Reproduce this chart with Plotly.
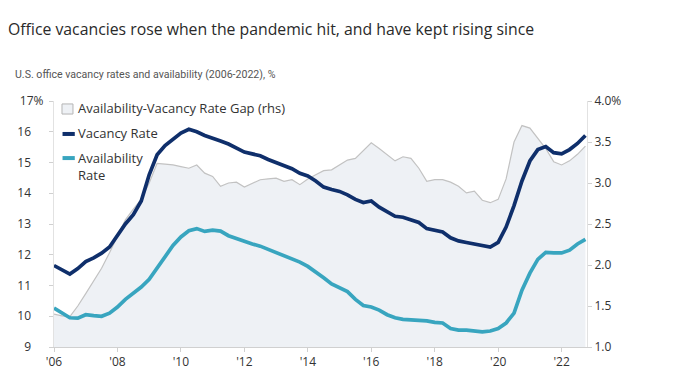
import plotly.graph_objects as go

# Quarterly, 2006 Q1 .. 2022 Q4
years = [2006 + i * 0.25 for i in range(68)]

vacancy = [11.65, 11.5, 11.37, 11.55, 11.78, 11.9, 12.05, 12.25,
           12.65, 13.0, 13.3, 13.75, 14.6, 15.25, 15.55, 15.75,
           15.96, 16.08, 16.0, 15.88, 15.8, 15.7, 15.6, 15.47,
           15.34, 15.28, 15.22, 15.1, 15.0, 14.88, 14.8, 14.65,
           14.56, 14.4, 14.2, 14.12, 14.06, 13.95, 13.8, 13.7,
           13.75, 13.55, 13.4, 13.25, 13.22, 13.12, 13.05, 12.85,
           12.78, 12.74, 12.55, 12.45, 12.4, 12.36, 12.3, 12.25,
           12.4, 12.9, 13.6, 14.4, 15.05, 15.42, 15.52, 15.32,
           15.28, 15.42, 15.62, 15.88]

availability = [10.27, 10.1, 9.95, 9.94, 10.05, 10.02, 10.0, 10.1,
                10.3, 10.55, 10.75, 10.95, 11.2, 11.55, 11.95, 12.3,
                12.58, 12.78, 12.85, 12.76, 12.8, 12.77, 12.62, 12.52,
                12.42, 12.35, 12.28, 12.18, 12.08, 11.98, 11.88, 11.76,
                11.62, 11.45, 11.25, 11.05, 10.93, 10.8, 10.55, 10.35,
                10.3, 10.2, 10.05, 9.95, 9.9, 9.88, 9.88, 9.85,
                9.8, 9.78, 9.6, 9.55, 9.55, 9.52, 9.49, 9.52,
                9.6, 9.78, 10.1, 10.85, 11.4, 11.85, 12.08, 12.06,
                12.06, 12.15, 12.35, 12.5]

gap = [1.4, 1.38, 1.37, 1.5, 1.65, 1.8, 1.96, 2.15,
       2.35, 2.55, 2.68, 2.8, 3.0, 3.24, 3.23, 3.22,
       3.2, 3.18, 3.22, 3.12, 3.08, 2.96, 3.0, 3.01,
       2.95, 3.0, 3.04, 3.05, 3.06, 3.02, 3.04, 2.98,
       3.05, 3.1, 3.15, 3.16, 3.22, 3.28, 3.3, 3.4,
       3.49, 3.42, 3.35, 3.27, 3.32, 3.3, 3.18, 3.02,
       3.04, 3.04, 3.01, 2.96, 2.88, 2.9, 2.79, 2.76,
       2.8, 3.05, 3.5, 3.7, 3.67, 3.55, 3.42, 3.26,
       3.22, 3.27, 3.35, 3.45]

series_names = ["Availability-Vacancy Rate Gap (rhs)", "Vacancy Rate", "Availability<br>Rate"]
x_ticks = list(range(2006, 2023, 2))
x_labels = ["'06", "'08", "'10", "'12", "'14", "'16", "'18", "'20", "'22"]
left_ticks = list(range(9, 18))
NB = "\u00a0\u00a0\u00a0\u00a0\u00a0"  # pads the numbers so the "%" of the top label hangs
left_labels = ["9" + NB, "10" + NB, "11" + NB, "12" + NB, "13" + NB,
               "14" + NB, "15" + NB, "16" + NB, "17%\u00a0"]
right_ticks = [1.0, 1.5, 2.0, 2.5, 3.0, 3.5, 4.0]
right_labels = ["1.0", "1.5", "2.0", "2.5", "3.0", "3.5", "4.0%"]

FONT = "Open Sans"
GAP_LINE = "#c2c2c2"
GAP_FILL = "#eef1f5"
NAVY = "#0f2f6b"
TEAL = "#38a5bf"

fig = go.Figure()
fig.add_trace(go.Scatter(
    x=years, y=gap, name=series_names[0], showlegend=False,
    mode="lines", line=dict(color=GAP_LINE, width=1.2),
    fill="tozeroy", fillcolor=GAP_FILL, yaxis="y"))
fig.add_trace(go.Scatter(
    x=years, y=vacancy, name=series_names[1], showlegend=False, mode="lines",
    line=dict(color=NAVY, width=3.7), yaxis="y2"))
fig.add_trace(go.Scatter(
    x=years, y=availability, name=series_names[2], showlegend=False, mode="lines",
    line=dict(color=TEAL, width=3.7), yaxis="y2"))

axis_font = dict(family=FONT, size=12, color="#333333")
legend_font = dict(family=FONT, size=13, color="#333333")

# legend (drawn as paper-positioned symbols + real text)
shapes = [
    dict(type="rect", xref="paper", yref="paper", x0=0.015, x1=0.0356, y0=0.947, y1=0.988,
         fillcolor=GAP_FILL, line=dict(color="#b5b5b5", width=1)),
    dict(type="line", xref="paper", yref="paper", x0=0.016, x1=0.039, y0=0.866, y1=0.866,
         line=dict(color=NAVY, width=4)),
    dict(type="line", xref="paper", yref="paper", x0=0.016, x1=0.039, y0=0.768, y1=0.768,
         line=dict(color=TEAL, width=4)),
]
annotations = [
    dict(text="U.S. office vacancy rates and availability (2006-2022), %",
         xref="paper", yref="paper", x=-0.077, y=1.106,
         xanchor="left", yanchor="middle", showarrow=False,
         font=dict(family="Roboto", size=10.6, color="#555555")),
    dict(text=series_names[0], xref="paper", yref="paper", x=0.042, y=0.9715,
         xanchor="left", yanchor="middle", showarrow=False, font=legend_font),
    dict(text=series_names[1], xref="paper", yref="paper", x=0.042, y=0.870,
         xanchor="left", yanchor="middle", showarrow=False, font=legend_font),
    dict(text=series_names[2], xref="paper", yref="paper", x=0.042, y=0.734,
         xanchor="left", yanchor="middle", showarrow=False, align="left", font=legend_font),
]

fig.update_layout(
    width=674, height=378,
    margin=dict(l=46, r=95, t=93, b=39, autoexpand=False),
    paper_bgcolor="white", plot_bgcolor="white",
    showlegend=False,
    font=dict(family=FONT, color="#333333"),
    title=dict(text="Office vacancies rose when the pandemic hit, and have kept rising since",
               x=0, xref="container", xanchor="left", y=0.942, yanchor="middle",
               pad=dict(l=0), font=dict(family=FONT, size=15.8, color="#2a2a2a")),
    shapes=shapes,
    annotations=annotations,
    xaxis=dict(range=[2006, 2022.8], tickvals=x_ticks, ticktext=x_labels,
               showgrid=False, showline=True, linecolor="#d0d0d0", linewidth=1,
               ticks="outside", ticklen=4, tickcolor="#d0d0d0", automargin=False,
               tickfont=axis_font, zeroline=False),
    yaxis=dict(range=[1, 4], tickvals=right_ticks, ticktext=right_labels,
               side="right", showgrid=False, showline=True, linecolor="#e2e2e2",
               ticks="outside", ticklen=4, tickcolor="#d0d0d0", automargin=False,
               tickfont=axis_font, zeroline=False),
    yaxis2=dict(range=[9, 17], tickvals=left_ticks, ticktext=left_labels,
                side="left", overlaying="y", showgrid=False, showline=True,
                linecolor="#e2e2e2", ticks="outside", ticklen=4, tickcolor="#d0d0d0",
                automargin=False, tickfont=axis_font, zeroline=False),
)

fig.write_html("out.html")
